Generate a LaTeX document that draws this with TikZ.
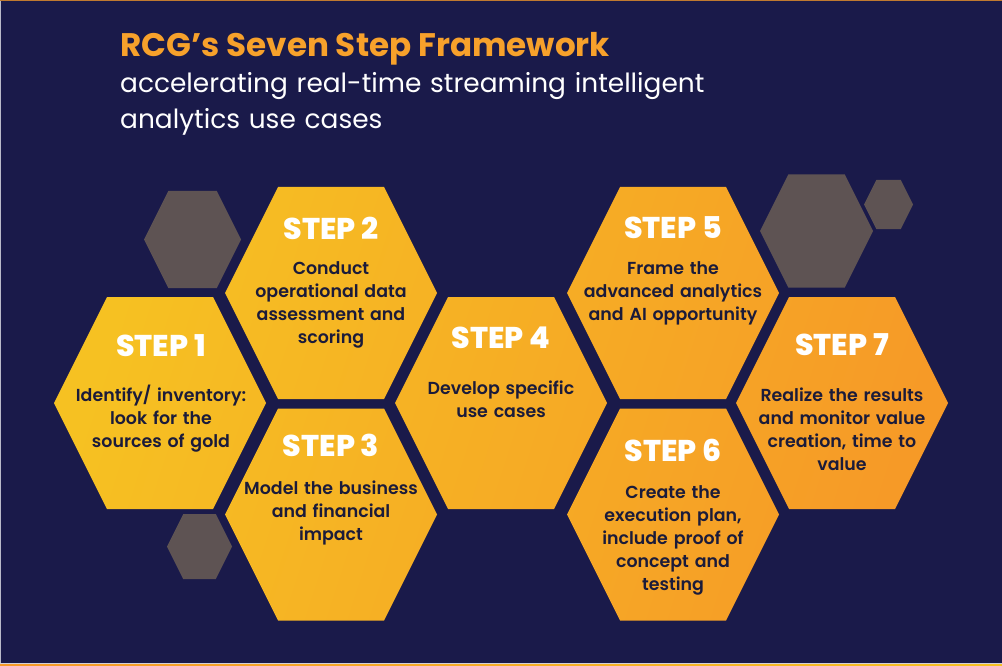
\documentclass[tikz,border=0pt]{standalone}
\usepackage{fontspec}
\setmainfont{Poppins}
\IfFontExistsTF{Poppins ExtraBold}{\newfontfamily\stepff{Poppins ExtraBold}}{\newcommand\stepff{\bfseries}}
\IfFontExistsTF{Poppins SemiBold}{\newfontfamily\bodyff{Poppins SemiBold}}{\newcommand\bodyff{\bfseries}}
\definecolor{navy}{HTML}{1A1A4A}
\definecolor{hexgray}{HTML}{5E5353}
\definecolor{darktext}{HTML}{1B1B3A}
\definecolor{titleorange}{HTML}{F7A12B}
\definecolor{hexyellow}{HTML}{F6C122}
\definecolor{hexorange}{HTML}{F69A27}
\definecolor{topline}{HTML}{C07A30}
\newcommand{\hexat}[3]{(#1,#2) ++(-#3,0) -- ++(#3/2,-#3) -- ++(#3,0) -- ++(#3/2,#3) -- ++(-#3/2,#3) -- ++(-#3,0) -- cycle}
\tikzset{
  steplabel/.style={anchor=base, text=white, font=\stepff\fontsize{30}{30}\selectfont, inner sep=0pt},
  stepbody/.style={anchor=base, text=darktext, text width=200pt, align=center, font=\bodyff\fontsize{17.4}{23}\selectfont, inner sep=0pt},
}
\begin{document}
\begin{tikzpicture}[x=1pt,y=-1pt]
\useasboundingbox (0,0) rectangle (1002,666);
\fill[navy] (0,0) rectangle (1002,666);
% edge lines
\fill[left color=hexorange, right color=hexyellow] (0,663.6) rectangle (1002,666);
\fill[white!80!navy] (0,662.8) rectangle (1002,663.6);
\fill[topline] (0,0) rectangle (1002,1.2);
\fill[white!70!navy] (0,1.2) rectangle (1,662.8);
% gray hexagons
\fill[hexgray] \hexat{192.5}{239.5}{48.5};
\fill[hexgray] \hexat{199.5}{546.5}{32.5};
\fill[hexgray] \hexat{816.5}{231}{56.5};
\fill[hexgray] \hexat{888.5}{204.5}{24.5};
% step hexagons
\begin{scope}
\clip \hexat{160}{403}{106} \hexat{331}{293}{106} \hexat{331}{514.5}{106}
      \hexat{501}{403}{106} \hexat{673}{293}{106} \hexat{673}{514.5}{106}
      \hexat{842}{403}{106};
\shade[top color=hexyellow, bottom color=hexorange, shading angle=72] (50,180) rectangle (955,625);
\end{scope}
% texts
\node[anchor=base west, inner sep=0pt, text=titleorange, font=\bfseries\fontsize{32.6}{36}\selectfont] (title) at (120,57) {RCG’s Seven Step Framework};
\node[anchor=base west, inner sep=0pt, text=white, text width=800pt, align=left, font=\fontsize{26.4}{36}\selectfont] (subtitle) at (120,93) {accelerating real-time streaming intelligent\\analytics use cases};
\node[steplabel] (s1) at (161,356) {STEP 1};
\node[stepbody] (b1) at (161,401) {Identify/ inventory:\\look for the\\sources of gold};
\node[steplabel] (s2) at (331,239) {STEP 2};
\node[stepbody] (b2) at (331,274) {Conduct\\operational data\\assessment and\\scoring};
\node[steplabel] (s3) at (331,456) {STEP 3};
\node[stepbody] (b3) at (331,494) {Model the business\\and financial\\impact};
\node[steplabel] (s4) at (501,348) {STEP 4};
\node[stepbody] (b4) at (501,394) {Develop specific\\use cases};
\node[steplabel] (s5) at (673,238) {STEP 5};
\node[stepbody] (b5) at (673,274) {Frame the\\advanced analytics\\and AI opportunity};
\node[steplabel] (s6) at (673,461) {STEP 6};
\node[stepbody] (b6) at (673,498) {Create the\\execution plan,\\include proof of\\concept and\\testing};
\node[steplabel] (s7) at (842,355) {STEP 7};
\node[stepbody] (b7) at (842,401) {Realize the results\\and monitor value\\creation, time to\\value};
\end{tikzpicture}
\end{document}
